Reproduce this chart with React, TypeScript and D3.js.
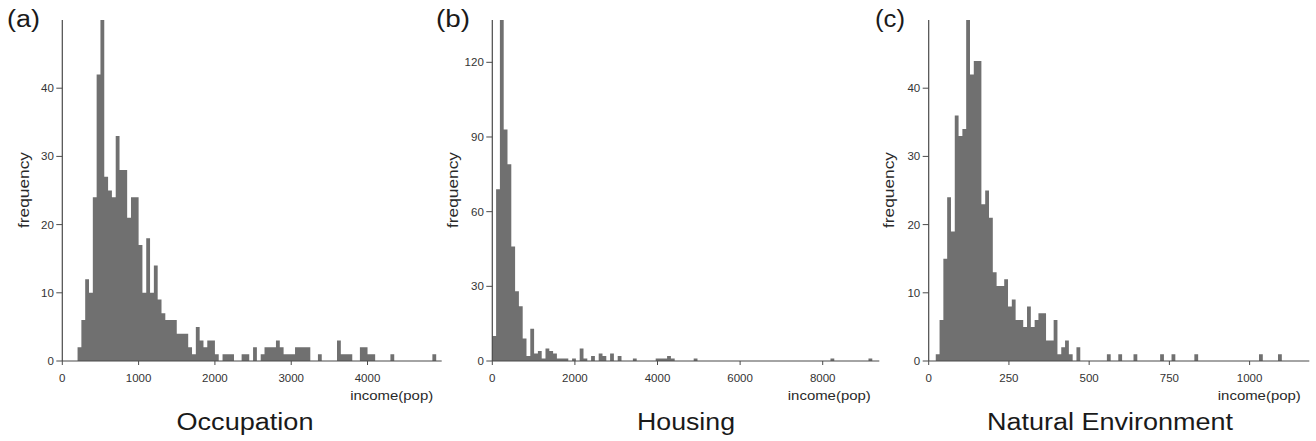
import React from "react";
import * as d3 from "d3";

// ---- Data ----
// Panel (a) Occupation: bins of width 50 starting at 200
const occBinStart = 200;
const occBinWidth = 50;
const occCounts = [
  2, 6, 12, 10, 24, 42, 50, 27, 25, 24, 33, 28, 28, 21, 24, 24, 17, 10, 18, 10,
  14, 9, 7, 6, 6, 6, 4, 4, 4, 2, 1, 5, 3, 2, 3, 3, 1, 0, 1, 1,
  1, 0, 0, 1, 1, 0, 2, 0, 1, 2, 2, 2, 3, 2, 1, 1, 1, 2, 2, 2,
  2, 0, 0, 1, 0, 0, 0, 0, 3, 1, 1, 1, 0, 0, 2, 2, 1, 1, 0, 0,
  0, 0, 1, 0, 0, 0, 0, 0, 0, 0, 0, 0, 0, 1,
];
const occXTicks = [0, 1000, 2000, 3000, 4000];
const occYTicks = [0, 10, 20, 30, 40];

// Panel (b) Housing: bins of width 92 starting at 0
const houBinStart = 0;
const houBinWidth = 92;
const houCounts = [
  10, 69, 137, 93, 79, 46, 28, 22, 9, 2, 13, 3, 4, 1, 5, 4, 3, 1, 1, 1,
  0, 1, 0, 5, 1, 0, 2, 0, 3, 2, 0, 3, 0, 2, 0, 0, 0, 1, 0, 0,
  0, 0, 0, 1, 1, 1, 2, 1, 0, 0, 0, 0, 0, 1, 0, 0, 0, 0, 0, 0,
  0, 0, 0, 0, 0, 0, 0, 0, 0, 0, 0, 0, 0, 0, 0, 0, 0, 0, 0, 0,
  0, 0, 0, 0, 0, 0, 0, 0, 0, 1, 0, 0, 0, 0, 0, 0, 0, 0, 0, 1,
];
const houXTicks = [0, 2000, 4000, 6000, 8000];
const houYTicks = [0, 30, 60, 90, 120];

// Panel (c) Natural Environment: bins of width 11.85 starting at 22
const natBinStart = 22;
const natBinWidth = 11.85;
const natCounts = [
  1, 6, 15, 24, 19, 36, 33, 34, 50, 42, 44, 44, 23, 25, 21, 13, 11, 11, 12, 8,
  9, 6, 6, 5, 8, 5, 6, 7, 7, 3, 3, 6, 1, 2, 3, 1, 0, 2, 0, 0,
  0, 0, 0, 0, 0, 1, 0, 0, 1, 0, 0, 0, 1, 0, 0, 0, 0, 0, 0, 1,
  0, 0, 1, 0, 0, 0, 0, 0, 1, 0, 0, 0, 0, 0, 0, 0, 0, 0, 0, 0,
  0, 0, 0, 0, 0, 1, 0, 0, 0, 0, 1,
];
const natXTicks = [0, 250, 500, 750, 1000];
const natYTicks = [0, 10, 20, 30, 40];

const panelLetters = ["(a)", "(b)", "(c)"];
const panelTitles = ["Occupation", "Housing", "Natural Environment"];
const yLabel = "frequency";
const xLabel = "income(pop)";

// ---- Layout ----
const FONT = "'Liberation Sans', Arial, Helvetica, sans-serif";
const TOP = 20;
const BASE = 361;

type Panel = {
  counts: number[];
  start: number;
  width: number;
  xTicks: number[];
  yTicks: number[];
  x0: number;
  x1: number;
  xMax: number;
  yMax: number;
  letterX: number;
  letterW: number;
  ylabX: number;
  titleCx: number;
  titleW: number;
};

const panels: Panel[] = [
  {
    counts: occCounts, start: occBinStart, width: occBinWidth,
    xTicks: occXTicks, yTicks: occYTicks,
    x0: 62.3, x1: 441.7, xMax: 4972, yMax: 50,
    letterX: 7, letterW: 33, ylabX: 28.5, titleCx: 245, titleW: 137,
  },
  {
    counts: houCounts, start: houBinStart, width: houBinWidth,
    xTicks: houXTicks, yTicks: houYTicks,
    x0: 492.3, x1: 879.3, xMax: 9370, yMax: 137,
    letterX: 436, letterW: 34, ylabX: 458, titleCx: 686, titleW: 98,
  },
  {
    counts: natCounts, start: natBinStart, width: natBinWidth,
    xTicks: natXTicks, yTicks: natYTicks,
    x0: 928.7, x1: 1309.3, xMax: 1186, yMax: 50,
    letterX: 875, letterW: 30, ylabX: 893.5, titleCx: 1110, titleW: 246,
  },
];

function HistPanel({ p, i }: { p: Panel; i: number }) {
  const x = d3.scaleLinear().domain([0, p.xMax]).range([p.x0, p.x1]);
  const y = d3.scaleLinear().domain([0, p.yMax]).range([BASE, TOP]);
  const pts: [number, number][] = p.counts.map((c, k) => [p.start + k * p.width, c]);
  pts.push([p.start + p.counts.length * p.width, 0]);
  const area = d3
    .area<[number, number]>()
    .x((d) => x(d[0]))
    .y0(BASE)
    .y1((d) => y(d[1]))
    .curve(d3.curveStepAfter);
  const axisColor = "#4a4a4a";
  const tickColor = "#333";
  return (
    <g>
      <path d={area(pts) || ""} fill="#707070" />
      {/* axes */}
      <line x1={p.x0} x2={p.x0} y1={TOP} y2={BASE} stroke={axisColor} strokeWidth={1.2} />
      <line x1={p.x0} x2={p.x1} y1={BASE} y2={BASE} stroke={axisColor} strokeWidth={1.2} />
      {p.yTicks.map((t) => (
        <g key={"y" + t}>
          <line x1={p.x0 - 6} x2={p.x0} y1={y(t)} y2={y(t)} stroke={axisColor} strokeWidth={1} />
          <text
            x={p.x0 - 8.5}
            y={y(t)}
            dy="0.35em"
            textAnchor="end"
            fontSize={11.5}
            fill={tickColor}
            fontFamily={FONT}
          >
            {t}
          </text>
        </g>
      ))}
      {p.xTicks.map((t) => (
        <g key={"x" + t}>
          <line x1={x(t)} x2={x(t)} y1={BASE} y2={BASE + 4} stroke={axisColor} strokeWidth={1} />
          <text
            x={x(t)}
            y={381.5}
            textAnchor="middle"
            fontSize={11.5}
            fill={tickColor}
            fontFamily={FONT}
          >
            {t}
          </text>
        </g>
      ))}
      <text
        x={p.x1 - 8.5}
        y={400}
        textAnchor="end"
        fontSize={13}
        fill="#2a2a2a"
        fontFamily={FONT}
        textLength={83}
        lengthAdjust="spacingAndGlyphs"
      >
        {xLabel}
      </text>
      <text
        transform={`translate(${p.ylabX},190) rotate(-90)`}
        textAnchor="middle"
        fontSize={14}
        fill="#2a2a2a"
        fontFamily={FONT}
        textLength={76}
        lengthAdjust="spacingAndGlyphs"
      >
        {yLabel}
      </text>
      <text
        x={p.letterX}
        y={26.5}
        fontSize={23}
        fill="#1a1a1a"
        fontFamily={FONT}
        textLength={p.letterW}
        lengthAdjust="spacingAndGlyphs"
      >
        {panelLetters[i]}
      </text>
      <text
        x={p.titleCx - p.titleW / 2}
        y={430}
        fontSize={23}
        fill="#1a1a1a"
        fontFamily={FONT}
        textLength={p.titleW}
        lengthAdjust="spacingAndGlyphs"
      >
        {panelTitles[i]}
      </text>
    </g>
  );
}

export default function App() {
  return (
    <svg
      width={1316}
      height={441}
      viewBox="0 0 1316 441"
      style={{ position: "absolute", left: 0, top: 0, background: "#fff" }}
    >
      <rect x={0} y={0} width={1316} height={441} fill="#fff" />
      {panels.map((p, i) => (
        <HistPanel key={i} p={p} i={i} />
      ))}
    </svg>
  );
}
